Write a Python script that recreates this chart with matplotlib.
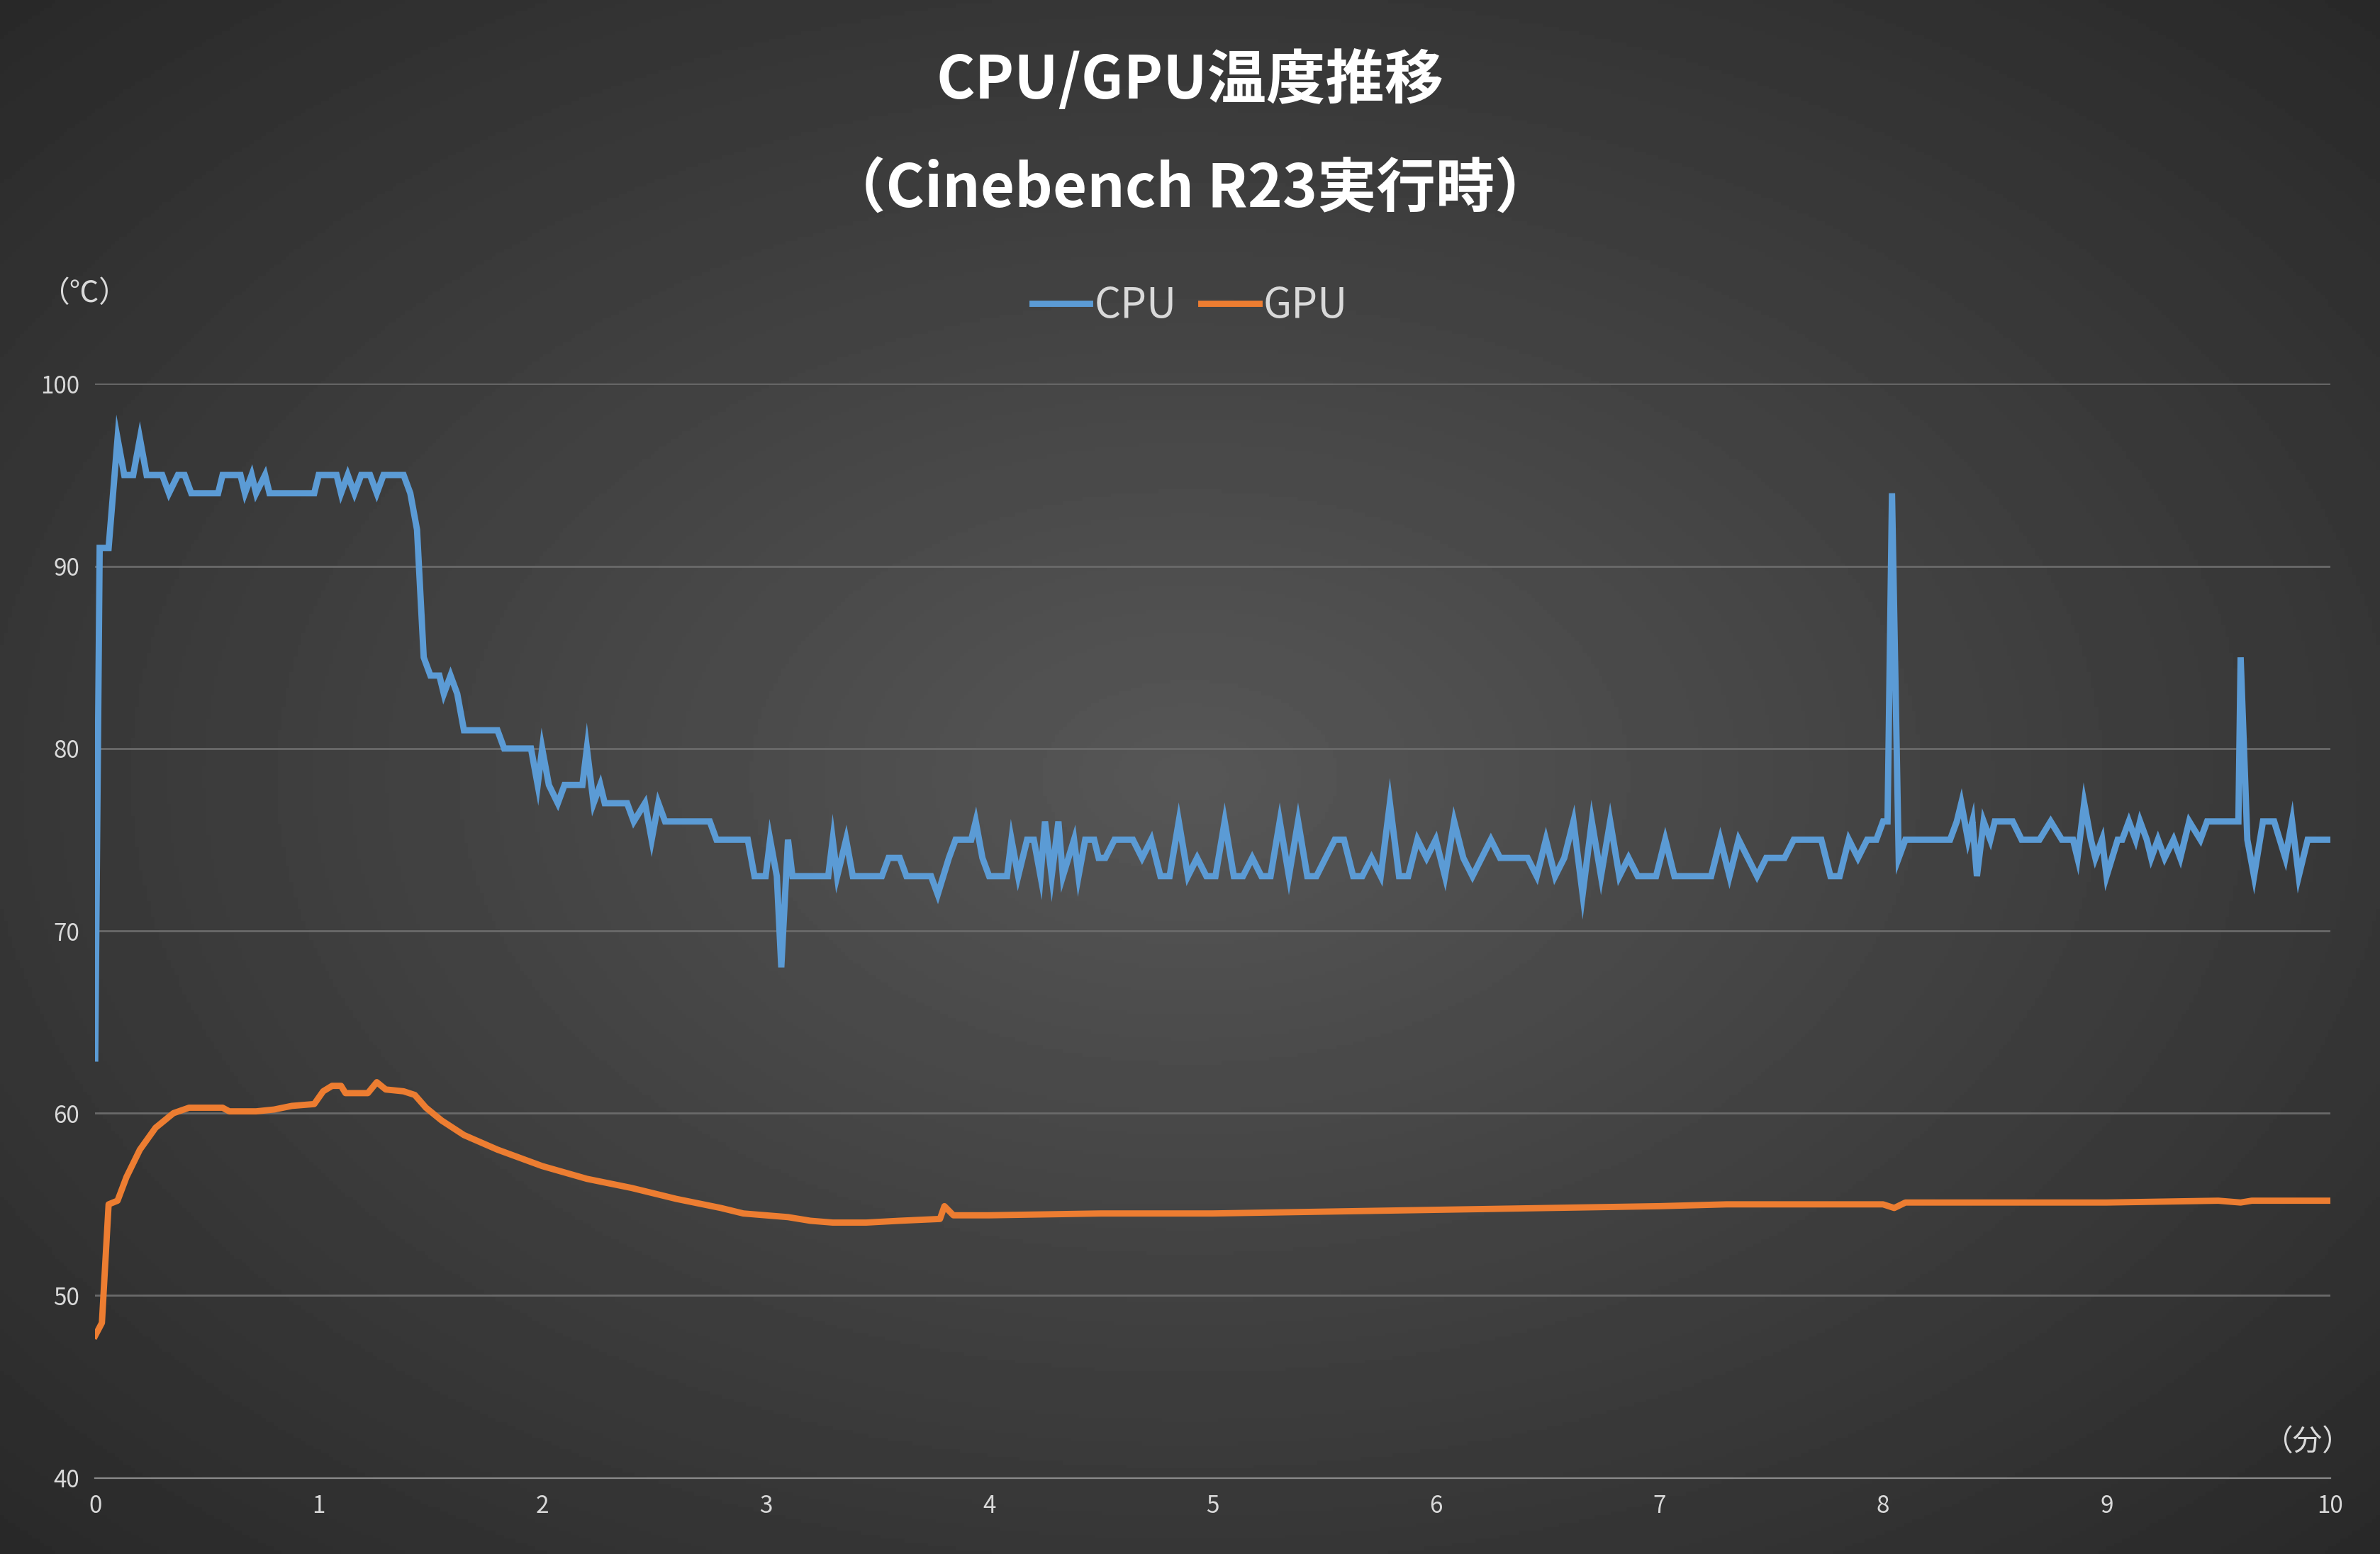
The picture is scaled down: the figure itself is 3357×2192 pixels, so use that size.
import numpy as np
import matplotlib.pyplot as plt

plt.rcParams['font.family'] = ['Noto Sans CJK JP', 'DejaVu Sans']

# CPU: explicit start / end segments, noisy middle at uniform spacing
cpu_head_t = [0, 0.02, 0.06, 0.1, 0.13, 0.17, 0.2, 0.23, 0.3, 0.33, 0.37, 0.4, 0.43, 0.55, 0.57, 0.65, 0.67, 0.7,
              0.72, 0.76, 0.78, 0.98, 1.0, 1.08, 1.1, 1.13, 1.16, 1.19, 1.23, 1.26, 1.29, 1.38, 1.41, 1.44, 1.47,
              1.5, 1.54, 1.56, 1.59, 1.62, 1.65, 1.8, 1.83, 1.95, 1.98, 2.0, 2.03, 2.07, 2.1, 2.18, 2.2, 2.23, 2.26,
              2.28, 2.38, 2.41, 2.46, 2.49, 2.52, 2.55, 2.75, 2.78, 2.92, 2.95, 3.0, 3.02, 3.05, 3.07, 3.1, 3.12,
              3.28, 3.3, 3.32, 3.36, 3.39, 3.52, 3.55, 3.6, 3.63, 3.74, 3.77, 3.82, 3.85, 3.92, 3.94, 3.97, 4.0,
              4.08, 4.1, 4.13, 4.17, 4.2, 4.23, 4.25, 4.28, 4.31, 4.33, 4.38, 4.4, 4.43, 4.47, 4.49]
cpu_head_v = [63, 91, 91, 97, 95, 95, 97, 95, 95, 94, 95, 95, 94, 94, 95, 95, 94, 95,
              94, 95, 94, 94, 95, 95, 94, 95, 94, 95, 95, 94, 95, 95, 94, 92, 85,
              84, 84, 83, 84, 83, 81, 81, 80, 80, 78, 80, 78, 77, 78, 78, 80, 77, 78,
              77, 77, 76, 77, 75, 77, 76, 76, 75, 75, 73, 73, 75, 73, 68, 75, 73,
              73, 75, 73, 75, 73, 73, 74, 74, 73, 73, 72, 74, 75, 75, 76, 74, 73,
              73, 75, 73, 75, 75, 73, 76, 73, 76, 73, 75, 73, 75, 75, 74]
cpu_mid_v = [74, 75, 75, 75, 74, 75, 73, 73, 76, 73, 74, 73, 73, 76, 73, 73, 74, 73, 73, 76, 73, 76, 73,
             73, 74, 75, 75, 73, 73, 74, 73, 77, 73, 73, 75, 74, 75, 73, 76, 74, 73, 74, 75, 74, 74, 74,
             74, 73, 75, 73, 74, 76, 72, 76, 73, 76, 73, 74, 73, 73, 73, 75, 73, 73, 73, 73, 73, 75, 73,
             75, 74, 73, 74, 74, 74, 75, 75, 75, 75, 73, 73, 75, 74, 75, 75]
cpu_tail_t = [8.0, 8.02, 8.04, 8.07, 8.1, 8.3, 8.33, 8.35, 8.38, 8.4, 8.42, 8.45, 8.48, 8.5, 8.58, 8.62,
              8.65, 8.7, 8.75, 8.8, 8.85, 8.87, 8.9, 8.93, 8.95, 8.98, 9.0, 9.05, 9.07, 9.1, 9.13, 9.15,
              9.18, 9.2, 9.23, 9.26, 9.3, 9.33, 9.37, 9.42, 9.45, 9.5, 9.55, 9.59, 9.6, 9.63, 9.66, 9.7,
              9.75, 9.8, 9.83, 9.86, 9.9, 10.0]
cpu_tail_v = [76, 76, 94, 74, 75, 75, 76, 77, 75, 76, 73, 76, 75, 76, 76, 75, 75, 75, 76, 75, 75, 74,
              77, 75, 74, 75, 73, 75, 75, 76, 75, 76, 75, 74, 75, 74, 75, 74, 76, 75, 76, 76, 76, 76,
              85, 75, 73, 76, 76, 74, 76, 73, 75, 75]

gpu_t = [0, 0.03, 0.06, 0.1, 0.14, 0.2, 0.27, 0.35, 0.42, 0.57, 0.6, 0.72, 0.8, 0.88, 0.98, 1.02, 1.06, 1.1,
         1.12, 1.22, 1.26, 1.3, 1.38, 1.43, 1.48, 1.55, 1.65, 1.8, 2.0, 2.2, 2.4, 2.6, 2.8, 2.9, 3.0, 3.1,
         3.2, 3.3, 3.45, 3.6, 3.78, 3.8, 3.84, 4.0, 4.5, 5.0, 5.5, 6.0, 6.5, 7.0, 7.3, 8.0, 8.05, 8.1, 8.5,
         9.0, 9.5, 9.6, 9.65, 10.0]
gpu_v = [47.8, 48.5, 55, 55.2, 56.5, 58, 59.2, 60, 60.3, 60.3, 60.1, 60.1, 60.2, 60.4, 60.5, 61.2, 61.5, 61.5,
         61.1, 61.1, 61.7, 61.3, 61.2, 61.0, 60.3, 59.6, 58.8, 58.0, 57.1, 56.4, 55.9, 55.3, 54.8, 54.5, 54.4, 54.3,
         54.1, 54.0, 54.0, 54.1, 54.2, 54.9, 54.4, 54.4, 54.5, 54.5, 54.6, 54.7, 54.8, 54.9, 55.0, 55.0, 54.8, 55.1, 55.1,
         55.1, 55.2, 55.1, 55.2, 55.2]

cpu_t = cpu_head_t + list(np.linspace(4.52, 7.97, len(cpu_mid_v))) + cpu_tail_t
cpu_v = cpu_head_v + cpu_mid_v + cpu_tail_v

fig = plt.figure(figsize=(16.785, 10.96), dpi=200)
# radial gradient background
bg = fig.add_axes([0, 0, 1, 1]); bg.axis('off')
yy, xx = np.mgrid[-1:1:400j, -1:1:600j]
r = np.sqrt(xx**2 + yy**2) / np.sqrt(2)
bg.imshow(0.34 - 0.18 * r, cmap='gray', vmin=0, vmax=1, aspect='auto', extent=[0, 1, 0, 1])

ax = fig.add_axes([0.040, 0.049, 0.939, 0.704])
ax.patch.set_alpha(0)
ax.plot(cpu_t, cpu_v, color='#5b9bd5', lw=3.2, label='CPU', solid_joinstyle='miter')
ax.plot(gpu_t, gpu_v, color='#ed7d31', lw=3.2, label='GPU')
ax.set_xlim(0, 10); ax.set_ylim(40, 100)
ax.set_xticks(range(11)); ax.set_yticks(range(40, 101, 10))
ax.grid(axis='y', color='#6a6a6a', lw=1)
for s in ['top', 'right', 'left']:
    ax.spines[s].set_visible(False)
ax.spines['bottom'].set_color('#8a8a8a')
ax.tick_params(colors='#d9d9d9', labelsize=12, length=0, pad=8)
ax.text(-0.005, 1.075, '（℃）', transform=ax.transAxes, color='#d9d9d9', fontsize=15, ha='center')
ax.text(0.99, 0.025, '（分）', transform=ax.transAxes, color='#d9d9d9', fontsize=15, ha='center')
leg = fig.legend(loc='center', bbox_to_anchor=(0.5, 0.803), ncol=2, frameon=False, fontsize=21,
                 handlelength=1.4, columnspacing=0.6, handletextpad=0.1)
for t in leg.get_texts():
    t.set_color('#d9d9d9')
fig.text(0.5, 0.948, 'CPU/GPU温度推移', color='white', fontsize=30, fontweight='bold', ha='center', va='center')
fig.text(0.5, 0.878, '（Cinebench R23実行時）', color='white', fontsize=30, fontweight='bold', ha='center', va='center')
fig.savefig('out.png', dpi=200)
